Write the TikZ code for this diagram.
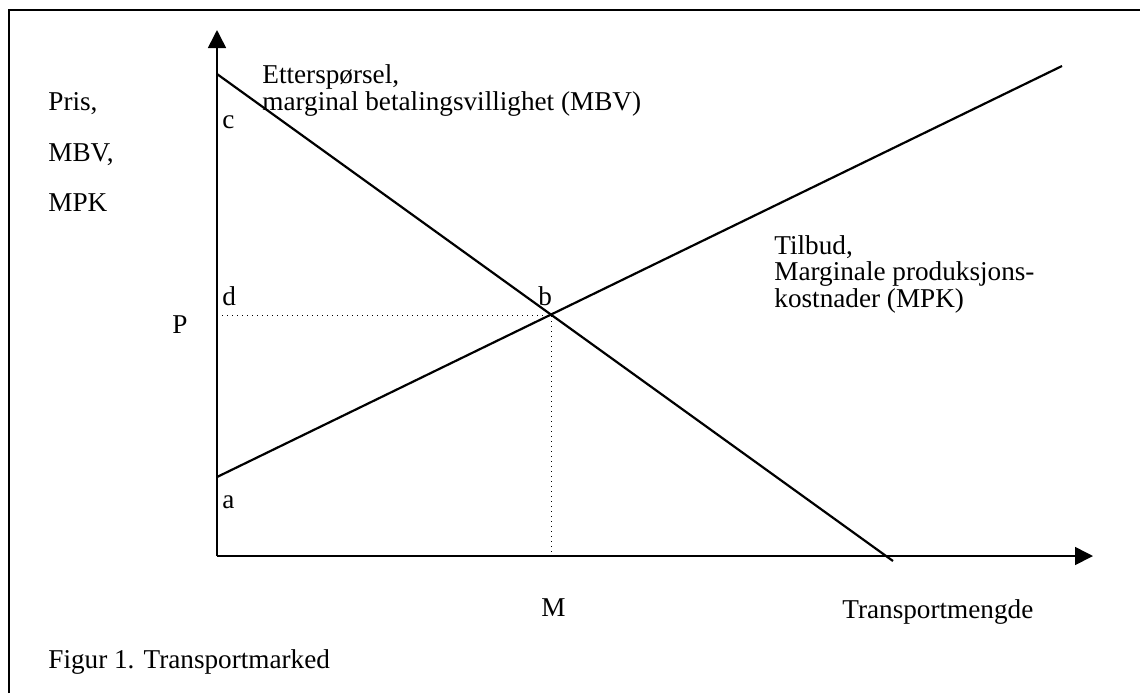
\documentclass[tikz,border=0pt]{standalone}
\usepackage{fontspec}
\setmainfont{Liberation Serif}
\usetikzlibrary{arrows.meta}
\begin{document}
\begin{tikzpicture}[x=0.5pt,y=-0.5pt,
  lbl/.style={anchor=base west,inner sep=0pt,font=\fontsize{13.6}{16}\selectfont},
  axis/.style={line width=0.8pt,-{Triangle[length=9pt,width=9pt]}},
  curve/.style={line width=1.1pt},
  guide/.style={line width=0.5pt,dotted}]
\useasboundingbox (0,0) rectangle (1140,693);
\draw[line width=1pt] (9,693) -- (9,10) -- (1140,10);
\coordinate (O) at (217,556);
\coordinate (ytip) at (217,30);
\coordinate (xtip) at (1093,556);
\coordinate (c) at (217,74);
\coordinate (dend) at (893,561);
\coordinate (a) at (217,477);
\coordinate (send) at (1062,66);
\coordinate (b) at (551,315);
\coordinate (Py) at (217,315);
\coordinate (Mx) at (551,556);
\draw[axis] (O) -- (ytip);
\draw[axis] (O) -- (xtip);
\draw[curve] (c) -- (dend);
\draw[curve] (a) -- (send);
\draw[guide] (Py) -- (b) -- (Mx);
\node[lbl] (pris) at (48,110) {Pris,};
\node[lbl] (mbv) at (48,161) {MBV,};
\node[lbl] (mpk) at (48,211) {MPK};
\node[lbl] (lc) at (222,128) {c};
\node[lbl] (ld) at (222,305) {d};
\node[lbl] (lP) at (172,333) {P};
\node[lbl] (la) at (222,508) {a};
\node[lbl] (lb) at (538,305) {b};
\node[lbl] (lM) at (541,616) {M};
\node[lbl] (tm) at (842,618) {Transportmengde};
\node[lbl] (fig) at (48,668) {Figur 1. Transportmarked};
\node[lbl] (e1) at (262,83) {Etterspørsel,};
\node[lbl] (e2) at (262,110) {marginal betalingsvillighet (MBV)};
\node[lbl] (t1) at (774,254) {Tilbud,};
\node[lbl] (t2) at (774,280) {Marginale produksjons-};
\node[lbl] (t3) at (774,307) {kostnader (MPK)};
\end{tikzpicture}
\end{document}
